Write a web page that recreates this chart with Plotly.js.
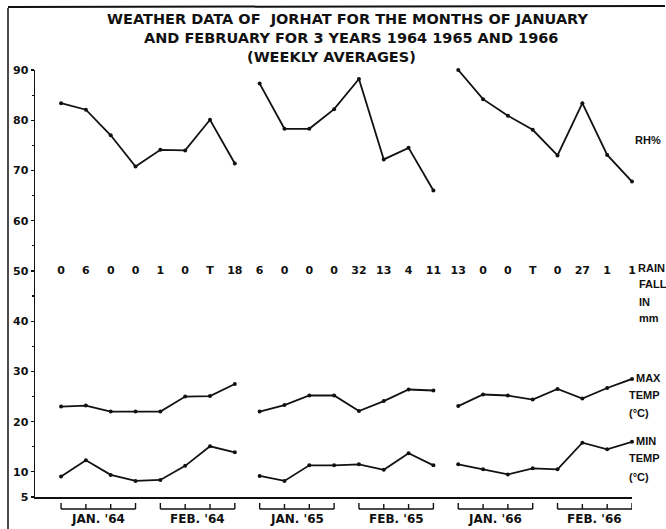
<!DOCTYPE html>
<html>
<head>
<meta charset="utf-8">
<script src="https://cdn.plot.ly/plotly-3.0.1.min.js"></script>
<style>html,body{margin:0;padding:0;background:#fff;}#chart{width:666px;height:529px;}</style>
</head>
<body>
<div id="chart"></div>
<script>
// Week index 0..23 : 8 weekly averages per year (Jan + Feb), 1964, 1965, 1966
const weeks = [0,1,2,3,4,5,6,7,8,9,10,11,12,13,14,15,16,17,18,19,20,21,22,23];
const years = ["1964","1965","1966"];
const relHumidity = [83.4, 82.1, 77, 70.8, 74.1, 74, 80.1, 71.4,
                     87.3, 78.3, 78.3, 82.2, 88.2, 72.2, 74.5, 66,
                     90, 84.2, 80.9, 78.1, 73, 83.4, 73.1, 67.8];
const maxTemp = [23, 23.2, 22, 22, 22, 25, 25.1, 27.5,
                 22, 23.3, 25.2, 25.2, 22.1, 24.1, 26.4, 26.2,
                 23.1, 25.4, 25.2, 24.4, 26.5, 24.6, 26.7, 28.5];
const minTemp = [9.1, 12.3, 9.4, 8.2, 8.4, 11.2, 15.1, 13.9,
                 9.2, 8.2, 11.3, 11.3, 11.5, 10.4, 13.7, 11.3,
                 11.5, 10.5, 9.5, 10.7, 10.5, 15.8, 14.5, 16];
const rainfall = ["0","6","0","0","1","0","T","18",
                  "6","0","0","0","32","13","4","11",
                  "13","0","0","T","0","27","1","1"];
const rainRowLevel = 50;
const monthLabels = ["JAN. '64","FEB. '64","JAN. '65","FEB. '65","JAN. '66","FEB. '66"];
const yTicks = [5,10,20,30,40,50,60,70,80,90];
const titleLines = ["WEATHER DATA OF  JORHAT FOR THE MONTHS OF JANUARY",
                    "AND FEBRUARY FOR 3 YEARS 1964 1965 AND 1966",
                    "(WEEKLY AVERAGES)"];

const INK = '#111';
const FONT = 'DejaVu Sans, sans-serif';
const SIDEFONT = 'Liberation Sans, Arial, sans-serif';
const traces = [];
function addSeries(vals){
  for (let y = 0; y < years.length; y++){
    traces.push({
      type:'scatter', mode:'lines+markers', cliponaxis:false,
      x: weeks.slice(y*8, y*8+8), y: vals.slice(y*8, y*8+8),
      line:{color:INK, width:1.8}, marker:{color:INK, size:4},
      showlegend:false, hoverinfo:'skip'
    });
  }
}
addSeries(relHumidity);
addSeries(maxTemp);
addSeries(minTemp);
traces.push({
  type:'scatter', mode:'text', cliponaxis:false, x: weeks, y: weeks.map(()=>rainRowLevel),
  text: rainfall, textposition:'middle center',
  textfont:{family:FONT, size:11, color:INK, weight:'bold'},
  showlegend:false, hoverinfo:'skip'
});

const L = 35, R = 632, T = 70, B = 497;
const pw = R - L, ph = B - T;
const px2paperX = p => (p - L)/pw;
const px2paperY = p => (B - p)/ph;

const shapes = [];
const annotations = [];
const brY = px2paperY(509), tkY = px2paperY(504);
monthLabels.forEach((lab, m) => {
  const a = weeks[m*4], b = weeks[m*4+3];
  shapes.push({type:'line', xref:'x', yref:'paper', x0:a, x1:b, y0:brY, y1:brY, line:{color:INK,width:1.4}});
  for (let k = 0; k < 4; k++){
    const w = weeks[m*4+k];
    shapes.push({type:'line', xref:'x', yref:'paper', x0:w, x1:w, y0:brY, y1:(k===0||k===3)?px2paperY(503):tkY, line:{color:INK,width:1.4}});
  }
  annotations.push({xref:'x', yref:'paper', x:(a+b)/2, y:px2paperY(519), text:lab, showarrow:false,
    xanchor:'center', yanchor:'middle', font:{family:FONT, size:12, color:INK, weight:'bold'}});
});
// frame lines of the original sheet
shapes.push({type:'line', xref:'paper', yref:'paper', x0:px2paperX(8), x1:px2paperX(8), y0:px2paperY(8), y1:px2paperY(529), line:{color:INK,width:1.5}});
shapes.push({type:'line', xref:'paper', yref:'paper', x0:px2paperX(8), x1:px2paperX(665), y0:px2paperY(7), y1:px2paperY(6), line:{color:INK,width:2}});

// title lines
const titleCenters = [347, 351, 331];
titleLines.forEach((t, i) => {
  annotations.push({xref:'paper', yref:'paper', x:px2paperX(titleCenters[i]), y:px2paperY(19 + i*19), text:t, showarrow:false,
    xanchor:'center', yanchor:'middle', font:{family:FONT, size:14.5, color:INK, weight:'bold'}});
});

function sideLabel(txt, pxX, pxY){
  annotations.push({xref:'paper', yref:'paper', x:px2paperX(pxX), y:px2paperY(pxY), text:txt, showarrow:false,
    xanchor:'left', yanchor:'middle', font:{family:SIDEFONT, size:11, color:INK, weight:'bold'}});
}
sideLabel('RH%', 633, 140);
sideLabel('RAIN', 636, 268);
sideLabel('FALL', 637, 284);
sideLabel('IN', 637, 302);
sideLabel('mm', 637, 318);
sideLabel('MAX', 634, 378);
sideLabel('TEMP', 627, 395);
sideLabel('(°C)', 627, 413);
sideLabel('MIN', 634, 441);
sideLabel('TEMP', 627, 458);
sideLabel('(°C)', 627, 477);

const layout = {
  width:666, height:529,
  margin:{l:L, r:666-R, t:T, b:529-B},
  paper_bgcolor:'#fff', plot_bgcolor:'#fff',
  xaxis:{range:[-1.05, 23], showgrid:false, zeroline:false, showticklabels:false, ticks:'',
    showline:true, linecolor:INK, linewidth:1.8, fixedrange:true},
  yaxis:{range:[5, 90], showgrid:false, zeroline:false, tickmode:'array', tickvals:yTicks,
    ticks:'outside', ticklen:3, tickcolor:INK, tickwidth:1.2,
    minor:{tickmode:'array', tickvals:[15,25,35,45,55,65,75,85], ticks:'outside', ticklen:2, tickcolor:INK},
    showline:true, linecolor:INK, linewidth:1.5,
    tickfont:{family:FONT, size:11, color:INK, weight:'bold'}, fixedrange:true},
  shapes:shapes, annotations:annotations, showlegend:false
};
Plotly.newPlot('chart', traces, layout, {displayModeBar:false, staticPlot:true});
</script>
</body>
</html>
